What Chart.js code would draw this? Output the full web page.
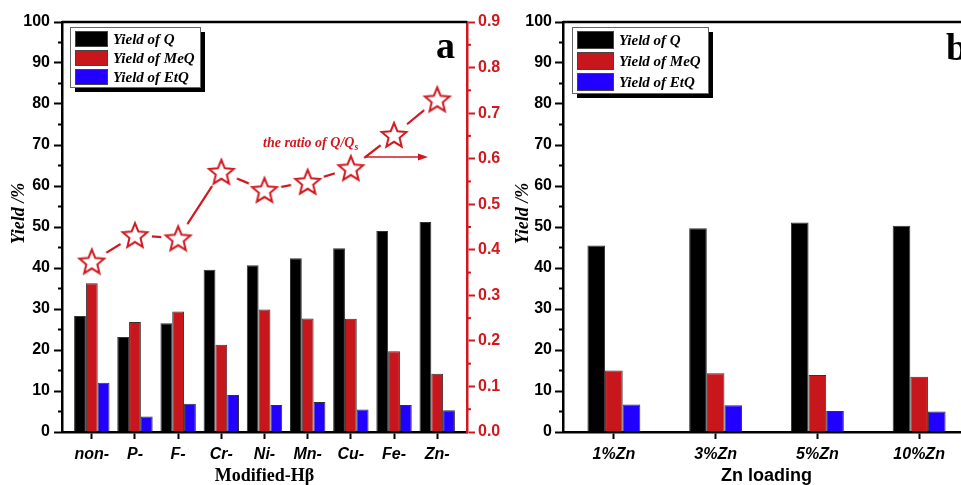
<!DOCTYPE html>
<html>
<head>
<meta charset="utf-8">
<script src="https://cdn.jsdelivr.net/npm/chart.js@4"></script>
<style>
  html, body { margin: 0; padding: 0; background: #fff; width: 961px; height: 485px; overflow: hidden; }
  #left { position: absolute; left: 0; top: 0; }
  #right { position: absolute; left: 505px; top: 0; }
</style>
</head>
<body>
<canvas id="left" width="505" height="485"></canvas>
<canvas id="right" width="510" height="485"></canvas>
<script>
// panel a: modified H-beta
const catsA = ["non-", "P-", "F-", "Cr-", "Ni-", "Mn-", "Cu-", "Fe-", "Zn-"];
const yieldQ_A = [28.3, 23.2, 26.5, 39.6, 40.7, 42.4, 44.8, 49.0, 51.2];
const yieldMeQ_A = [36.3, 26.8, 29.4, 21.3, 29.9, 27.7, 27.6, 19.7, 14.2];
const yieldEtQ_A = [12.0, 3.8, 6.9, 9.0, 6.6, 7.3, 5.5, 6.6, 5.3];
const ratioQ_A = [0.374, 0.432, 0.425, 0.571, 0.531, 0.549, 0.579, 0.652, 0.730];

// panel b: Zn loading
const catsB = ["1%Zn", "3%Zn", "5%Zn", "10%Zn"];
const yieldQ_B = [45.5, 49.7, 51.1, 50.3];
const yieldMeQ_B = [15.0, 14.3, 13.9, 13.5];
const yieldEtQ_B = [6.7, 6.5, 5.1, 5.0];

const yTicks = [0, 10, 20, 30, 40, 50, 60, 70, 80, 90, 100];
const seriesNames = ["Yield of Q", "Yield of MeQ", "Yield of EtQ"];

const RED = "#d0181f";
const colors = ["#000000", "#c8171c", "#2200ff"];
const sans = "'Liberation Sans', Arial, sans-serif";
const serif = "'Liberation Serif', 'Times New Roman', serif";

// hollow five-point star marker, white halo leaves a gap in the line
function makeStar() {
  const c = document.createElement("canvas");
  c.width = 36; c.height = 36;
  const g = c.getContext("2d");
  g.fillStyle = "#fff";
  g.beginPath();
  g.arc(18, 18, 17, 0, Math.PI * 2);
  g.fill();
  g.beginPath();
  for (let i = 0; i < 10; i++) {
    const r = i % 2 ? 5.8 : 13;
    const a = -Math.PI / 2 + i * Math.PI / 5;
    g.lineTo(18 + r * Math.cos(a), 19 + r * Math.sin(a));
  }
  g.closePath();
  g.strokeStyle = RED;
  g.lineWidth = 2;
  g.stroke();
  return c;
}
const star = makeStar();

const boxLegend = {
  id: "boxLegend",
  afterDraw(chart, args, o) {
    const ctx = chart.ctx;
    ctx.save();
    ctx.fillStyle = "#000";
    ctx.fillRect(o.x + 5, o.y + 5, o.w, o.h);
    ctx.fillStyle = "#fff";
    ctx.fillRect(o.x, o.y, o.w, o.h);
    ctx.strokeStyle = "#666";
    ctx.lineWidth = 1;
    ctx.strokeRect(o.x + 0.5, o.y + 0.5, o.w, o.h);
    ctx.font = "bold italic 15px " + serif;
    ctx.textBaseline = "middle";
    seriesNames.forEach((name, i) => {
      const y = o.y + 4 + i * o.row;
      ctx.fillStyle = colors[i];
      ctx.fillRect(o.x + 5, y, o.sw, o.sh);
      ctx.strokeStyle = "#444";
      ctx.strokeRect(o.x + 5.5, y + 0.5, o.sw - 1, o.sh - 1);
      ctx.fillStyle = "#000";
      ctx.fillText(name, o.x + o.sw + 10, y + o.sh / 2 + 1);
    });
    ctx.restore();
  }
};

const frame = {
  id: "frame",
  afterDraw(chart, args, o) {
    const ctx = chart.ctx;
    const a = chart.chartArea;
    ctx.save();
    ctx.strokeStyle = "#000";
    ctx.lineWidth = 2.5;
    ctx.beginPath();
    ctx.moveTo(a.left, a.top);
    ctx.lineTo(a.right, a.top);
    ctx.stroke();
    // minor ticks halfway between labelled ones
    ["y", "y2"].forEach(id => {
      const s = chart.scales[id];
      if (!s) return;
      const left = s.position === "left";
      const x0 = left ? a.left : a.right;
      ctx.strokeStyle = id === "y2" ? RED : "#000";
      ctx.lineWidth = 2;
      for (let i = 0; i < s.ticks.length - 1; i++) {
        const v = (s.ticks[i].value + s.ticks[i + 1].value) / 2;
        const py = s.getPixelForValue(v);
        ctx.beginPath();
        ctx.moveTo(x0, py);
        ctx.lineTo(left ? x0 - 4 : x0 + 4, py);
        ctx.stroke();
      }
    });
    ctx.fillStyle = "#000";
    ctx.font = "bold 38px " + serif;
    ctx.textBaseline = "alphabetic";
    ctx.fillText(o.letter, o.lx, o.ly);
    if (o.note) {
      ctx.fillStyle = RED;
      ctx.font = "bold italic 14px " + serif;
      ctx.fillText("the ratio of Q/Q", 263, 147);
      const w = ctx.measureText("the ratio of Q/Q").width;
      ctx.font = "bold italic 10px " + serif;
      ctx.fillText("s", 263 + w, 150);
      ctx.strokeStyle = RED;
      ctx.lineWidth = 1.5;
      ctx.beginPath();
      ctx.moveTo(365, 157);
      ctx.lineTo(420, 157);
      ctx.stroke();
      ctx.beginPath();
      ctx.moveTo(428, 157);
      ctx.lineTo(418, 153.5);
      ctx.lineTo(418, 160.5);
      ctx.closePath();
      ctx.fill();
    }
    ctx.restore();
  }
};

function yAxis(width, titlePad, labelPad) {
  return {
    position: "left",
    min: 0, max: 100,
    afterFit: s => { s.width = width; },
    afterBuildTicks: s => { s.ticks = yTicks.map(v => ({ value: v })); },
    border: { color: "#000", width: 2.5 },
    grid: { drawOnChartArea: false, tickLength: 8, tickWidth: 2, color: "#000" },
    ticks: { color: "#000", padding: labelPad, font: { family: sans, size: 16, weight: "bold" } },
    title: {
      display: true, text: "      Yield /%", color: "#000",
      padding: { top: titlePad, bottom: 0 },
      font: { family: serif, size: 18, weight: "bold", style: "italic", lineHeight: 1 }
    }
  };
}

function barSets(q, meq, etq, toPoint, pct) {
  return [q, meq, etq].map((arr, i) => ({
    type: "bar",
    label: seriesNames[i],
    data: arr.map(toPoint),
    backgroundColor: colors[i],
    borderColor: "#333",
    borderWidth: 1,
    categoryPercentage: pct,
    barPercentage: 1,
    order: 1
  }));
}

new Chart(document.getElementById("left"), {
  type: "bar",
  data: {
    datasets: [
      ...barSets(yieldQ_A, yieldMeQ_A, yieldEtQ_A, (v, i) => ({ x: i, y: v }), 0.82),
      {
        type: "line",
        label: "the ratio of Q/Qs",
        data: ratioQ_A.map((v, i) => ({ x: i, y: v })),
        yAxisID: "y2",
        borderColor: RED,
        borderWidth: 2.2,
        pointStyle: star,
        order: 0
      }
    ]
  },
  options: {
    responsive: false,
    animation: false,
    events: [],
    layout: { padding: { top: 22, left: 0, right: 0, bottom: 0 } },
    plugins: {
      legend: { display: false },
      tooltip: { enabled: false },
      boxLegend: { x: 70, y: 27, w: 130, h: 60, row: 19, sw: 33, sh: 16 },
      frame: { letter: "a", lx: 436, ly: 58, note: true }
    },
    scales: {
      x: {
        type: "linear",
        min: -0.69, max: 8.69,
        offset: false,
        afterFit: s => { s.height = 53; },
        afterBuildTicks: s => { s.ticks = catsA.map((c, i) => ({ value: i })); },
        border: { color: "#000", width: 2.5 },
        grid: { drawOnChartArea: false, offset: false, tickLength: 7, tickWidth: 2, color: "#000" },
        ticks: {
          autoSkip: false, maxRotation: 0, padding: 6, color: "#000",
          callback: v => catsA[v],
          font: { family: sans, size: 16, weight: "bold", style: "italic" }
        },
        title: {
          display: true, text: "Modified-Hβ", color: "#000",
          padding: { top: 0, bottom: 0 },
          font: { family: serif, size: 18, weight: "bold", lineHeight: 1 }
        }
      },
      y: yAxis(62, 10, 4),
      y2: {
        position: "right",
        min: 0, max: 0.9,
        afterFit: s => { s.width = 38; },
        afterBuildTicks: s => { s.ticks = yTicks.slice(0, 10).map(v => ({ value: v / 100 })); },
        border: { color: RED, width: 2.5 },
        grid: { drawOnChartArea: false, tickLength: 8, tickWidth: 2, color: RED },
        ticks: {
          color: RED, padding: 3,
          callback: v => v.toFixed(1),
          font: { family: sans, size: 16, weight: "bold" }
        }
      }
    }
  },
  plugins: [boxLegend, frame]
});

new Chart(document.getElementById("right"), {
  type: "bar",
  data: {
    labels: catsB,
    datasets: barSets(yieldQ_B, yieldMeQ_B, yieldEtQ_B, v => v, 0.52)
  },
  options: {
    responsive: false,
    animation: false,
    events: [],
    layout: { padding: { top: 22, left: 0, right: 45, bottom: 0 } },
    plugins: {
      legend: { display: false },
      tooltip: { enabled: false },
      boxLegend: { x: 67, y: 27, w: 136, h: 66, row: 21, sw: 37, sh: 18 },
      frame: { letter: "b", lx: 441, ly: 60, note: false }
    },
    scales: {
      x: {
        offset: true,
        afterFit: s => { s.height = 53; },
        border: { color: "#000", width: 2.5 },
        grid: { drawOnChartArea: false, offset: false, tickLength: 7, tickWidth: 2, color: "#000" },
        ticks: {
          autoSkip: false, maxRotation: 0, padding: 6, color: "#000",
          font: { family: sans, size: 16, weight: "bold", style: "italic" }
        },
        title: {
          display: true, text: "Zn loading", color: "#000",
          padding: { top: 0, bottom: 0 },
          font: { family: sans, size: 18, weight: "bold", lineHeight: 1 }
        }
      },
      y: yAxis(58, 9, 3)
    }
  },
  plugins: [boxLegend, frame]
});
</script>
</body>
</html>
